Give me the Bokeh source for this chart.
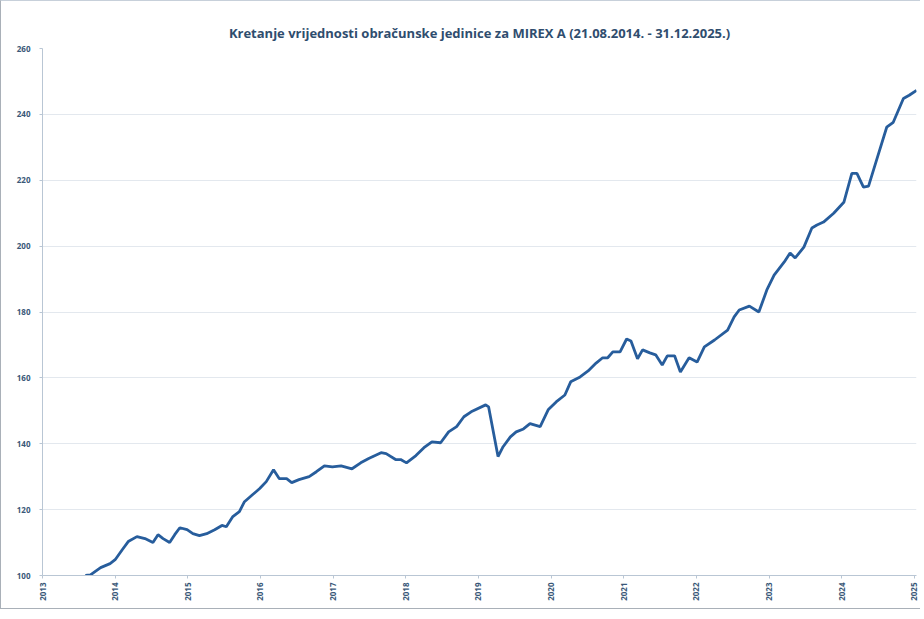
import math
from bokeh.plotting import figure
from bokeh.models import Range1d, FixedTicker, ColumnDataSource, Title
from bokeh.embed import file_html
from bokeh.resources import INLINE

title_text = "Kretanje vrijednosti obračunske jedinice za MIREX A (21.08.2014. - 31.12.2025.)"

year_ticks = [2013, 2014, 2015, 2016, 2017, 2018, 2019, 2020, 2021, 2022, 2023, 2024, 2025]
year_labels = [str(y) for y in year_ticks]
value_ticks = [100, 120, 140, 160, 180, 200, 220, 240, 260]
value_labels = [str(v) for v in value_ticks]

# position along the time axis (in units of the axis labels) and fund unit value
pos = [2013.59, 2013.66, 2013.80, 2013.93, 2014.00, 2014.10, 2014.18, 2014.30, 2014.41,
       2014.52, 2014.59, 2014.66, 2014.75, 2014.82, 2014.89, 2014.99, 2015.07, 2015.16,
       2015.26, 2015.37, 2015.47, 2015.53, 2015.62, 2015.71, 2015.78, 2015.89, 2015.99,
       2016.08, 2016.18, 2016.26, 2016.36, 2016.43, 2016.53, 2016.67, 2016.77, 2016.88,
       2016.99, 2017.11, 2017.26, 2017.38, 2017.49, 2017.66, 2017.73, 2017.86, 2017.93,
       2018.01, 2018.14, 2018.25, 2018.36, 2018.48, 2018.59, 2018.70, 2018.80, 2018.90,
       2019.10, 2019.14, 2019.27, 2019.34, 2019.44, 2019.52, 2019.62, 2019.71, 2019.85,
       2019.96, 2020.07, 2020.19, 2020.27, 2020.40, 2020.51, 2020.62, 2020.71, 2020.78,
       2020.85, 2020.95, 2021.04, 2021.10, 2021.19, 2021.26, 2021.36, 2021.44, 2021.53,
       2021.60, 2021.70, 2021.78, 2021.90, 2022.01, 2022.11, 2022.25, 2022.43, 2022.52,
       2022.59, 2022.73, 2022.86, 2022.97, 2023.07, 2023.21, 2023.29, 2023.36, 2023.48,
       2023.59, 2023.66, 2023.75, 2023.89, 2024.03, 2024.14, 2024.21, 2024.30, 2024.37,
       2024.48, 2024.62, 2024.71, 2024.85, 2024.93, 2025.03]
value = [100.0, 100.2, 102.4, 103.6, 104.8, 107.9, 110.3, 111.8, 111.2,
         110.0, 112.4, 111.2, 110.0, 112.4, 114.5, 113.9, 112.7, 112.1,
         112.7, 113.9, 115.2, 114.8, 117.9, 119.4, 122.4, 124.5, 126.4,
         128.5, 132.1, 129.4, 129.4, 128.2, 129.1, 130.0, 131.5, 133.3,
         133.0, 133.3, 132.4, 134.2, 135.5, 137.3, 137.0, 135.2, 135.2,
         134.2, 136.4, 138.8, 140.6, 140.3, 143.6, 145.2, 148.2, 149.7,
         151.8, 151.2, 136.1, 139.1, 142.1, 143.6, 144.5, 146.1, 145.2,
         150.3, 152.7, 154.8, 158.8, 160.3, 162.1, 164.5, 166.1, 166.1,
         167.9, 167.9, 171.8, 171.2, 165.8, 168.5, 167.6, 167.0, 163.9,
         166.7, 166.7, 161.8, 166.1, 164.8, 169.4, 171.5, 174.5, 178.5,
         180.6, 181.8, 180.0, 186.7, 191.2, 195.2, 197.9, 196.4, 199.7,
         205.5, 206.4, 207.3, 210.0, 213.3, 222.1, 222.1, 217.9, 218.2,
         226.1, 236.1, 237.6, 244.8, 245.8, 247.3]

src = ColumnDataSource(dict(x=pos, y=value))

p = figure(width=920, height=609, output_backend="svg", toolbar_location=None,
           x_range=Range1d(2013, 2025.03), y_range=Range1d(100, 260),
           min_border_left=41, min_border_right=5, min_border_top=47, min_border_bottom=35)

p.title = Title(text=title_text, align="center", text_font="Open Sans",
                text_font_size="13px", text_font_style="bold", text_color="#2f4d6e",
                offset=0, standoff=14)

p.line("x", "y", source=src, line_color="#275d9c", line_width=2.8)

p.outline_line_color = None
p.background_fill_color = "white"
p.border_fill_color = "white"
p.styles = {"border-left": "1px solid #a9b0b8", "border-top": "1px solid #c7d0da",
            "border-bottom": "1px solid #a9b0b8"}

p.xgrid.grid_line_color = None
p.ygrid.grid_line_color = "#e3e8ee"
p.ygrid.grid_line_width = 1

p.yaxis.ticker = FixedTicker(ticks=value_ticks)
p.yaxis.major_label_overrides = dict(zip(value_ticks, value_labels))
p.xaxis.ticker = FixedTicker(ticks=year_ticks)
p.xaxis.major_label_overrides = dict(zip(year_ticks, year_labels))
p.xaxis.major_label_orientation = math.pi / 2

for ax in (p.xaxis[0], p.yaxis[0]):
    ax.axis_line_color = "#b9c6d4"
    ax.axis_line_width = 1
    ax.major_tick_line_color = "#b9c6d4"
    ax.major_tick_out = 3
    ax.major_tick_in = 0
    ax.minor_tick_line_color = None
    ax.major_label_text_font = "Open Sans"
    ax.major_label_text_font_size = "8px"
    ax.major_label_text_font_style = "bold"
    ax.major_label_text_color = "#3a5878"
p.yaxis.major_label_standoff = 9
p.xaxis.major_label_standoff = 4

open("out.html", "w").write(file_html(p, INLINE))
